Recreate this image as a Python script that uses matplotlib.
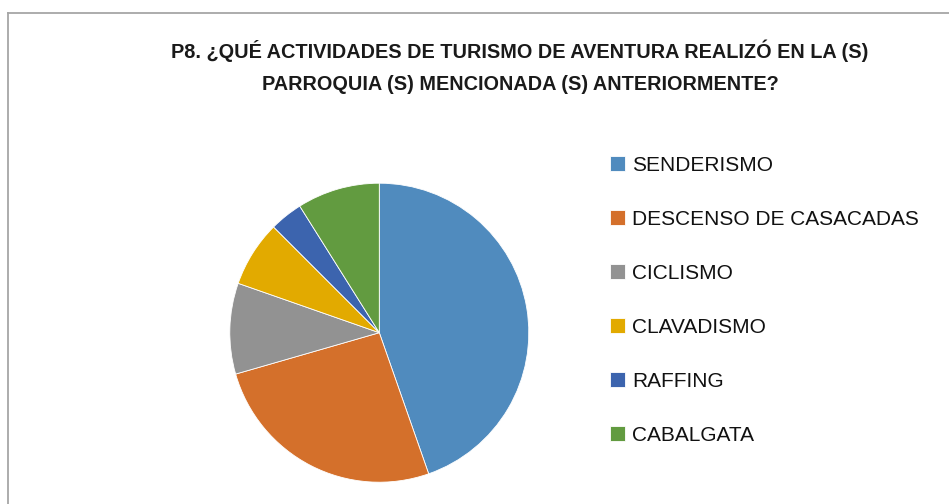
import matplotlib
matplotlib.use("Agg")
import matplotlib.pyplot as plt
from matplotlib.lines import Line2D

categories = ["SENDERISMO", "DESCENSO DE CASACADAS", "CICLISMO", "CLAVADISMO", "RAFFING", "CABALGATA"]
values = [50, 29, 11, 8, 4, 10]
colors = ["#508BBE", "#D4702B", "#929292", "#E2AA00", "#3C64AE", "#629B40"]
title = "P8. ¿QUÉ ACTIVIDADES DE TURISMO DE AVENTURA REALIZÓ EN LA (S)\nPARROQUIA (S) MENCIONADA (S) ANTERIORMENTE?"

W, H = 949, 504
fig = plt.figure(figsize=(W / 100, H / 100), dpi=100)
fig.patch.set_facecolor("white")

# border (top and left)
fig.add_artist(Line2D([8 / W, 8 / W], [0, 1 - 13 / H], transform=fig.transFigure, color="#A6A6A6", lw=1.3))
fig.add_artist(Line2D([8 / W, 1], [1 - 13 / H, 1 - 13 / H], transform=fig.transFigure, color="#A6A6A6", lw=1.3))

cx, cy, r = 379.3, 332.7, 149.5
ax = fig.add_axes([(cx - r) / W, (H - cy - r) / H, 2 * r / W, 2 * r / H])
wedges, _ = ax.pie(values, colors=colors, startangle=90, counterclock=False, radius=1,
                   wedgeprops=dict(edgecolor="white", linewidth=0.6))
ax.set_xlim(-1, 1)
ax.set_ylim(-1, 1)
ax.set_aspect("equal")
ax.axis("off")

fig.text(520 / W, 1 - 67 / H, title, ha="center", va="center", fontsize=14.3,
         fontweight="bold", family=["Liberation Sans", "DejaVu Sans"],
         linespacing=1.9, color="#1a1a1a")

fs = 15
leg = fig.legend(wedges, categories, loc="upper left", bbox_to_anchor=(610 / W, 1 - 156 / H),
                 frameon=False, handlelength=0.72, handleheight=0.72,
                 handletextpad=0.35, labelspacing=1.68, borderaxespad=0, borderpad=0,
                 prop={"family": ["Liberation Sans", "DejaVu Sans"], "size": fs})
for t in leg.get_texts():
    t.set_color("#111111")

fig.savefig("out.png", dpi=100)
